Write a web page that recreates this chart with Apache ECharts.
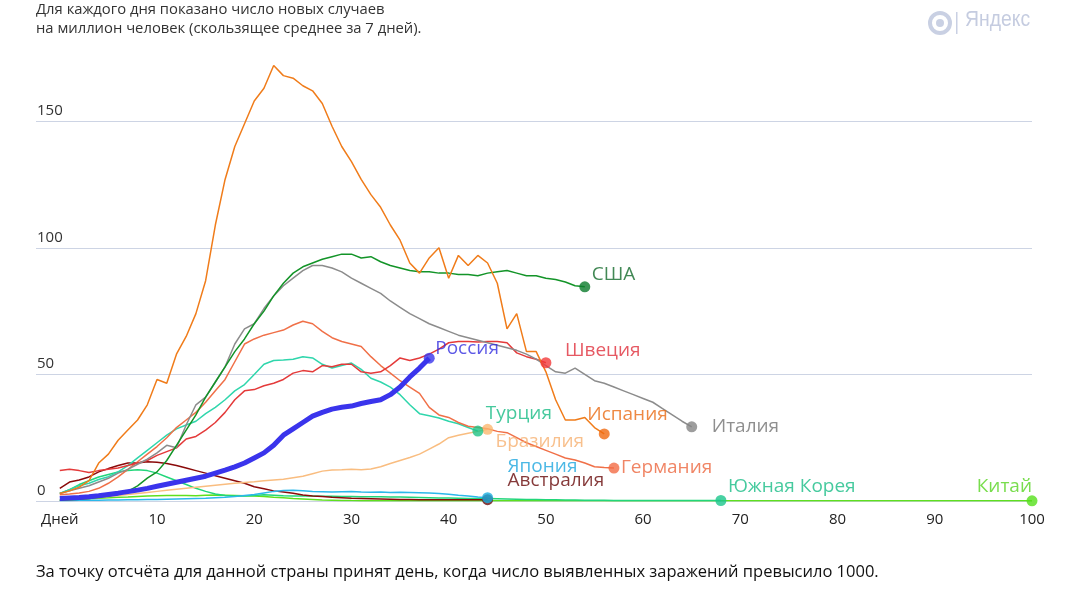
<!DOCTYPE html>
<html><head><meta charset="utf-8">
<script src="https://cdn.jsdelivr.net/npm/echarts@6/dist/echarts.min.js"></script>
<style>html,body{margin:0;padding:0;background:#fff}#c{width:1076px;height:598px}</style>
</head><body><div id="c"></div>
<script>
// ---------- DATA (values per day since 1000 cases, new cases per million, 7-day avg) ----------
const countries = ['США','Италия','Испания','Германия','Швеция','Россия','Турция','Бразилия','Япония','Австралия','Южная Корея','Китай'];
const xTickLabels = ['Дней','10','20','30','40','50','60','70','80','90','100'];
const yTickValues = [0,50,100,150];

const usa = [0.3,0.5,0.7,1,1.5,2,2.8,3.8,6,9,11.5,16,22,28,34,41,47,53,59,64,70,75,81,86,90,92.5,94,95.5,96.5,97.5,97.5,96,96.5,94.5,93,92,91,90.5,90.5,90,90,89.5,89.5,89,90,90.5,91,90,89,89,88,87.5,86.5,85,84.6];
const italy = [3,4,5,6,7.5,9,11,12.5,14.5,16.5,19,22,21,30,38,41,47,53,62,68,70,76,81,85,88,91,93,93,92,90.5,88,86,84,82,79,76.5,74,72,70,68.5,67,65.5,64.5,63.5,62.5,61.5,60.5,59.5,58,56,53.5,51,50.5,52.5,50,47.5,46.5,45,43.5,42,40.5,39,36.5,34,31.5,29.3];
const spain = [3,4,5.5,8,15,18.5,24,28,32,38,48,46.5,58,65,74,87,109,127,140,149,158,163,172,168,167,164,162,157,148,140,134,127,121,116,109,103,94,90,96,100,88,97,93,97,94,86,68,74,59,59,51,40,32,32,33,29,26.5];
const germany = [2.5,2.8,3.2,3.8,5,7,9.5,12.5,15.5,18.5,21.5,25,29,32,35,39,43.5,48,55,62,64,65.5,66.5,67.5,69.5,71,70,67,64.5,63,62,61,57,53.5,50.5,47.5,45,42.5,37,34,33,31,29.5,29,28.5,27.5,27,25,23,21.5,20,18.5,17,16.2,15,13.5,13.2,13];
const sweden = [12,12.5,12,11.3,12,12.5,13,14,15,16,18,19.5,21,24.5,25.5,28,31,35,40,43.5,44,45.5,46.5,48,50.5,51.5,51,53.5,53,54,54,51,50.5,51,53.5,56.5,55.5,56.5,58,60,62.5,63,63,62.8,63,63,62.5,58.5,57,56,54.6];
const russia = [1,1.2,1.4,1.7,2.1,2.6,3.1,3.7,4.3,5,5.8,6.6,7.4,8.2,9,9.8,11,12.2,13.5,15,17,19,22,26,28.5,31,33.5,35,36.3,37,37.5,38.5,39.3,40,42,45,49,52.5,56.4];
const turkey = [3,4.5,6,7,8.5,9.6,11.5,14,17,20,23,26,28.5,30,31.5,34.5,37,40,43.5,46,50,54,55.5,55.7,56,57,56.5,54,52.5,53.5,54.5,52,48.5,47,45,42,38,34.5,33.7,32.8,31.5,30.5,29,27.6];
const brazil = [0.3,0.5,0.8,1.1,1.4,1.8,2.2,2.6,3,3.4,3.8,4.2,4.6,5,5.4,5.8,6.2,6.6,7,7.3,7.6,8,8.3,8.6,9.2,9.8,10.8,11.8,12.2,12.3,12.5,12.3,12.6,13.5,14.8,16,17.2,18.5,20.5,22.5,25,26,26.8,27.5,28.3];
const japan = [0.2,0.2,0.3,0.3,0.3,0.4,0.4,0.5,0.5,0.6,0.6,0.7,0.8,0.9,1,1.1,1.3,1.5,1.8,2.2,2.6,3.2,3.8,4.1,4.2,4,3.8,3.7,3.6,3.7,3.8,3.6,3.5,3.6,3.4,3.5,3.4,3.3,3.2,3,2.7,2.3,2,1.6,1.3];
const australia = [5,7.5,8.3,9.5,11.5,12.8,14,15,15,15.5,15.3,14.8,14,13,12,11,10,9,8,7,5.6,4.8,4,3.6,3.1,2.4,2,1.8,1.5,1.3,1.1,1,0.9,0.8,0.7,0.6,0.6,0.5,0.5,0.5,0.5,0.5,0.5,0.5,0.5];
const korea = [3,4.5,6.5,8,9.5,10.5,11.5,12,12.3,12,11,9.5,8,6.5,5,3.8,2.8,2.2,2,2,2.2,2.5,2.3,2.1,2,2,2,1.9,1.9,1.8,1.8,1.7,1.7,1.7,1.6,1.6,1.5,1.4,1.3,1.2,1.2,1.1,1,1,1,0.9,0.8,0.7,0.6,0.6,0.5,0.5,0.4,0.4,0.3,0.3,0.3,0.2,0.2,0.2,0.2,0.2,0.2,0.2,0.2,0.2,0.2,0.2,0.2];
const china = [0.3,0.5,0.7,0.9,1.1,1.3,1.5,1.6,1.8,2,2.1,2.2,2.2,2.2,2.1,2.3,2.4,2.3,2.2,2.1,2,1.8,1.5,1.3,1,0.8,0.6,0.4,0.3,0.2,0.15,0.12,0.1,0.1,0.1,0.08,0.08,0.08,0.07,0.07,0.07,0.06,0.06,0.06,0.06,0.05,0.05,0.05,0.05,0.05,0.05,0.05,0.05,0.05,0.05,0.05,0.05,0.05,0.05,0.05,0.05,0.05,0.05,0.05,0.05,0.05,0.05,0.05,0.05,0.05,0.05,0.05,0.05,0.05,0.05,0.05,0.05,0.05,0.05,0.05,0.05,0.05,0.05,0.05,0.05,0.05,0.05,0.05,0.05,0.05,0.05,0.05,0.05,0.05,0.05,0.05,0.05,0.05,0.05,0.05,0.05];

const titleText = 'Для каждого дня показано число новых случаев\nна миллион человек (скользящее среднее за 7 дней).';
const footText = 'За точку отсчёта для данной страны принят день, когда число выявленных заражений превысило 1000.';

// ---------- STYLE ----------
const seriesValues = [usa, italy, spain, germany, sweden, russia, turkey, brazil, japan, australia, korea, china];
const styles = [
  {line:'#139428', dot:'#0b7a2c', text:'#136a2a', off:[-3.5,-12]},
  {line:'#8c8c8c', dot:'#858585', text:'#737373', off:[9.5,0]},
  {line:'#f07c1a', dot:'#f06a10', text:'#ea6c14', off:[-27.5,-19]},
  {line:'#f07048', dot:'#f26c45', text:'#ec663e', off:[-3.5,0]},
  {line:'#e43a3a', dot:'#f23a3a', text:'#e0303c', off:[8.5,-12]},
  {line:'#3a34ec', dot:'#3a34ec', text:'#3530e0', off:[-4.5,-10], width:5},
  {line:'#2fd6ac', dot:'#1fc385', text:'#18bb84', off:[-2.5,-18]},
  {line:'#f9bd80', dot:'#fbb870', text:'#f6b070', off:[-2.5,12]},
  {line:'#2bb8ea', dot:'#1aaee0', text:'#1ea6de', off:[9.5,-31]},
  {line:'#8a0a0a', dot:'#6a0b0b', text:'#660808', off:[9.5,-19]},
  {line:'#22d67a', dot:'#1cc68c', text:'#18bd86', off:[-3.5,-14]},
  {line:'#5fe01e', dot:'#55e01a', text:'#58d422', off:[10.5,-14], pos:'left'}
];
const FONT = "'Open Sans', 'Noto Sans', sans-serif";

const series = [];
const order = [11,10,9,8,7,6,3,4,1,0,2,5];
order.forEach(i => {
  const vals = seriesValues[i];
  const st = styles[i];
  series.push({
    type:'line', name:countries[i], xAxisIndex:1, yAxisIndex:1,
    data: vals.map((v,d)=>[d,v]), showSymbol:false, symbol:'none',
    lineStyle:{color:st.line, width:st.width||1.5}, silent:true, z: i===5?5:3
  });
});
order.forEach(i => {
  const vals = seriesValues[i];
  const st = styles[i];
  series.push({
    type:'scatter', xAxisIndex:1, yAxisIndex:1, symbolSize:11, z:6,
    itemStyle:{color:st.dot},
    data:[[vals.length-1, vals[vals.length-1]]],
    label:{show:true, formatter:countries[i], position:st.pos||'right', offset:st.off,
      color:st.text, fontSize:19, fontFamily:FONT}
  });
});

const YMAX = 180;
const TOP = 501 - YMAX * 2.532;

const chart = echarts.init(document.getElementById('c'), null, {renderer:'canvas'});
chart.setOption({
  animation:false,
  backgroundColor:'#fff',
  grid:[
    {left:36, right:44, top:TOP, bottom:97},
    {left:59.8, right:44, top:TOP, bottom:97}
  ],
  xAxis:[
    {gridIndex:0, type:'value', min:0, max:1, show:false},
    {gridIndex:1, type:'value', min:0, max:100, interval:10,
     axisLine:{show:false}, axisTick:{show:false}, splitLine:{show:false},
     axisLabel:{color:'#222', fontSize:15, fontFamily:FONT, margin:11,
       formatter:v=>xTickLabels[Math.round(v/10)]}}
  ],
  yAxis:[
    {gridIndex:0, type:'value', min:0, max:YMAX, interval:50,
     axisLine:{show:false}, axisTick:{show:false},
     splitLine:{showMaxLine:false, lineStyle:{color:'#cdd4e4', width:1}},
     axisLabel:{inside:true, margin:1, align:'left', verticalAlign:'bottom', padding:[0,0,3,0],
       showMaxLabel:false, color:'#333', fontSize:15, fontFamily:FONT,
       formatter:v=>yTickValues.indexOf(v)>=0?String(v):''}},
    {gridIndex:1, type:'value', min:0, max:YMAX, show:false}
  ],
  graphic:[
    {type:'text', left:36, top:0, style:{text:titleText, fill:'#333', font:'14.8px '+FONT, lineHeight:19}},
    {type:'text', left:36, top:564, style:{text:footText, fill:'#111', font:'16.5px '+FONT}},
    {type:'circle', shape:{cx:940, cy:23, r:10}, style:{fill:'none', stroke:'#c9d0e3', lineWidth:4}},
    {type:'circle', shape:{cx:940, cy:23, r:4}, style:{fill:'#c9d0e3'}},
    {type:'rect', shape:{x:956, y:12, width:1.5, height:22}, style:{fill:'#c9d0e3'}},
    {type:'text', x:965, y:9, scaleX:0.88, style:{text:'Яндекс', fill:'#c5cce0', font:"22px 'Liberation Sans', sans-serif"}}
  ],
  series:series
});
</script>
</body></html>
